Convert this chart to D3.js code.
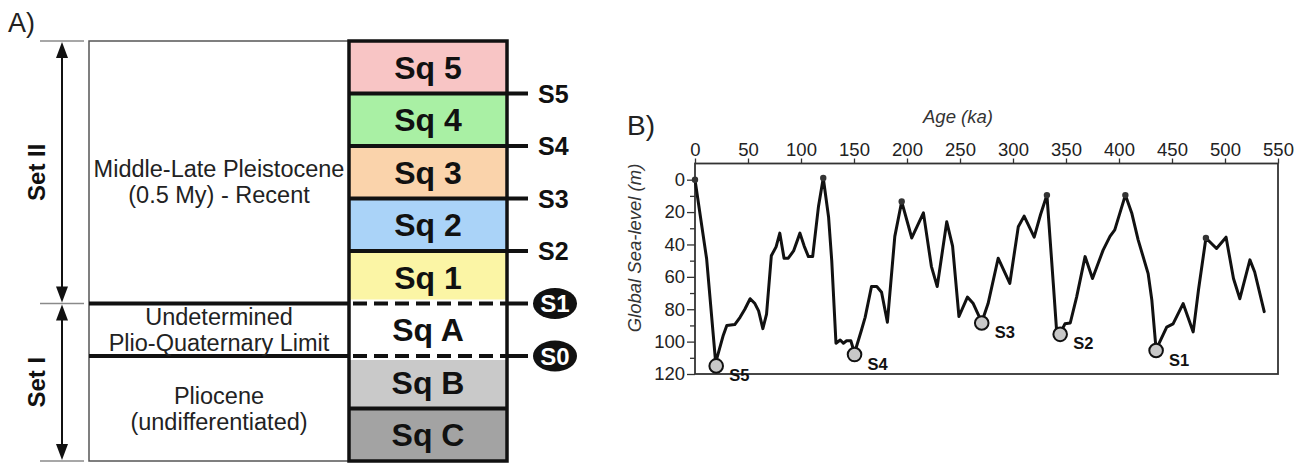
<!DOCTYPE html>
<html>
<head>
<meta charset="utf-8">
<script src="https://cdn.jsdelivr.net/npm/d3@7"></script>
<style>
  html, body { margin: 0; padding: 0; background: #fff; }
  svg { display: block; font-family: 'Liberation Sans', Arial, sans-serif; }
</style>
</head>
<body>
<svg id="chart" width="1306" height="463"></svg>
<script>
// ---- panel A data ----
const sequences = ['Sq 5', 'Sq 4', 'Sq 3', 'Sq 2', 'Sq 1', 'Sq A', 'Sq B', 'Sq C'];
const seqColors = ['#f8c5c5', '#a9f0a4', '#fad3ab', '#aad3f8', '#fbf5a5', '#ffffff', '#c9c9c9', '#a3a3a3'];
// surface at the base of each of the first six sequences
const surfaces = ['S5', 'S4', 'S3', 'S2', 'S1', 'S0'];
const keySurfaces = ['S1', 'S0'];
const unitLabels = [
  ['Middle-Late Pleistocene', '(0.5 My) - Recent'],
  ['Undetermined', 'Plio-Quaternary Limit'],
  ['Pliocene', '(undifferentiated)']
];
const unitSpans = [['Sq 5', 'Sq 1'], ['Sq A', 'Sq A'], ['Sq B', 'Sq C']];
const setNames = ['Set II', 'Set I'];
const setSpans = [['Sq 5', 'Sq 1'], ['Sq A', 'Sq C']];

// ---- panel B data ----
const ages = [0, 11, 19.5, 26.7, 30, 37.5, 42.5, 47, 52, 56.5, 60, 64, 67.5, 72, 76.5, 80, 84, 88, 93, 99,
  103, 107, 111, 116.5, 121, 126, 129, 133, 137, 140, 143, 147, 150.5, 157, 160.5, 166.5, 171.5, 176, 181.5,
  188.5, 195, 204.5, 215.5, 223, 228.5, 237.5, 243, 249, 257, 262.5, 270.5, 276.5, 286, 297, 305, 310.5,
  320, 326, 332, 338, 341, 344.5, 349, 354, 360, 368, 375, 385, 391.5, 396, 406, 412, 418, 427.5, 431,
  435, 445, 451, 460.5, 470, 475, 482, 492, 501, 508, 514, 523.5, 528, 537];
const seaLevel = [0, 49, 113, 96, 90, 89.5, 85, 80, 73.5, 76.5, 81, 92, 83, 47, 41.5, 33, 48.5, 48.5, 44, 33,
  41, 47.5, 47.5, 16.5, -1, 23, 50, 101, 99, 101, 99.5, 99.5, 107, 93, 85, 66, 66, 69.5, 88,
  35, 13.5, 36, 20.5, 53.5, 66, 26, 41, 84.5, 72.5, 76.5, 88, 76.5, 48.5, 64, 29, 22.5,
  35.5, 21.5, 9.5, 64, 92, 95, 89, 88.5, 72.5, 47.5, 61, 43.5, 35, 31, 9.5, 20.5, 37, 58, 74.5,
  105, 91, 89, 76.5, 94, 68, 36, 42.5, 35.5, 61, 73.5, 49.5, 57, 81.5];
const lowstandNames = ['S5', 'S4', 'S3', 'S2', 'S1'];
const lowstandAges = [20, 150.5, 270.5, 344.5, 435];
const lowstandLevels = [115, 108, 88.5, 95.5, 105.5];
const highstandAges = [0, 121, 195, 332, 406, 482];
const highstandLevels = [0, -1, 13.5, 9.5, 9.5, 36];
const ageTicks = [0, 50, 100, 150, 200, 250, 300, 350, 400, 450, 500, 550];
const levelTicks = [0, 20, 40, 60, 80, 100, 120];
const levelMinor = [10, 30, 50, 70, 90, 110];

const svg = d3.select('#chart');

// =================== panel A ===================
const gA = svg.append('g');
const boxLeft = 89, colLeft = 349, colRight = 507, tickEnd = 528;
const yA = d3.scaleBand().domain(sequences).range([41, 461]);
const bw = yA.bandwidth();
const colTop = yA.range()[0], colBottom = yA.range()[1];

gA.append('text').attr('x', 8).attr('y', 32).attr('font-size', 27).attr('fill', '#222').text('A)');

// bands
gA.selectAll('rect.band').data(sequences).enter().append('rect')
  .attr('class', 'band')
  .attr('x', colLeft).attr('width', colRight - colLeft)
  .attr('y', d => yA(d)).attr('height', bw)
  .attr('fill', (d, i) => seqColors[i]);

gA.selectAll('text.seq').data(sequences).enter().append('text')
  .attr('class', 'seq')
  .attr('x', (colLeft + colRight) / 2)
  .attr('y', d => yA(d) + bw / 2)
  .attr('dy', '0.36em')
  .attr('text-anchor', 'middle')
  .attr('font-size', 32).attr('font-weight', 'bold').attr('fill', '#111')
  .text(d => d);

// left box outline
gA.append('path')
  .attr('d', `M${colLeft},${colTop}H${boxLeft}V${colBottom}H${colLeft}`)
  .attr('fill', 'none').attr('stroke', '#555').attr('stroke-width', 1.5);

// boundary between Sq B and Sq C
const bc = yA('Sq C');
gA.append('line').attr('x1', colLeft).attr('x2', colRight).attr('y1', bc).attr('y2', bc)
  .attr('stroke', '#111').attr('stroke-width', 4);

// surfaces
surfaces.forEach((s, i) => {
  const yb = yA(sequences[i]) + bw;
  const isKey = keySurfaces.includes(s);
  if (isKey) {
    gA.append('line').attr('x1', boxLeft).attr('x2', colLeft).attr('y1', yb).attr('y2', yb)
      .attr('stroke', '#111').attr('stroke-width', 4);
    gA.append('line').attr('x1', colLeft).attr('x2', colRight).attr('y1', yb).attr('y2', yb)
      .attr('stroke', '#fff').attr('stroke-width', 8);
    gA.append('line').attr('x1', colLeft + 4).attr('x2', colRight).attr('y1', yb).attr('y2', yb)
      .attr('stroke', '#111').attr('stroke-width', 4).attr('stroke-dasharray', '14,7');
    gA.append('line').attr('x1', colRight).attr('x2', tickEnd).attr('y1', yb).attr('y2', yb)
      .attr('stroke', '#111').attr('stroke-width', 4);
    gA.append('ellipse').attr('cx', 555).attr('cy', yb).attr('rx', 22).attr('ry', 15.5).attr('fill', '#111');
    gA.append('text').attr('x', 555).attr('y', yb).attr('dy', '0.36em')
      .attr('text-anchor', 'middle').attr('font-size', 24).attr('font-weight', 'bold')
      .attr('fill', '#fff').text(s);
  } else {
    gA.append('line').attr('x1', colLeft).attr('x2', tickEnd).attr('y1', yb).attr('y2', yb)
      .attr('stroke', '#111').attr('stroke-width', 4);
    gA.append('text').attr('x', 538).attr('y', yb).attr('dy', '0.36em')
      .attr('font-size', 25).attr('font-weight', 'bold').attr('fill', '#111').text(s);
  }
});

// column outline
gA.append('rect').attr('x', colLeft).attr('y', colTop).attr('width', colRight - colLeft).attr('height', colBottom - colTop)
  .attr('fill', 'none').attr('stroke', '#111').attr('stroke-width', 3.5);

// unit descriptions
unitLabels.forEach((lines, i) => {
  const y0 = yA(unitSpans[i][0]), y1 = yA(unitSpans[i][1]) + bw;
  const cy = (y0 + y1) / 2 + (i === 0 ? 9 : 0);
  const t = gA.append('text').attr('x', (boxLeft + colLeft) / 2).attr('y', cy)
    .attr('text-anchor', 'middle').attr('font-size', 23.5).attr('fill', '#222');
  lines.forEach((l, j) => {
    t.append('tspan').attr('x', (boxLeft + colLeft) / 2)
      .attr('dy', j === 0 ? `${-0.5 * (lines.length - 1) * 1.1 + 0.36}em` : '1.1em').text(l);
  });
});

// sets with double arrows
const arrowX = 62;
const setBounds = [colTop];
setSpans.forEach(sp => setBounds.push(yA(sp[1]) + bw));
setBounds.forEach(yv => {
  gA.append('line').attr('x1', 40).attr('x2', 84).attr('y1', yv).attr('y2', yv)
    .attr('stroke', '#8a8a8a').attr('stroke-width', 1.5);
});
setNames.forEach((name, i) => {
  const y0 = yA(setSpans[i][0]), y1 = yA(setSpans[i][1]) + bw;
  gA.append('line').attr('x1', arrowX).attr('x2', arrowX).attr('y1', y0 + 10).attr('y2', y1 - 10)
    .attr('stroke', '#111').attr('stroke-width', 2);
  gA.append('path').attr('d', `M${arrowX},${y0 + 1}L${arrowX - 6},${y0 + 17}L${arrowX + 6},${y0 + 17}Z`).attr('fill', '#111');
  gA.append('path').attr('d', `M${arrowX},${y1 - 1}L${arrowX - 6},${y1 - 17}L${arrowX + 6},${y1 - 17}Z`).attr('fill', '#111');
  gA.append('text')
    .attr('transform', `translate(45,${(y0 + y1) / 2}) rotate(-90)`)
    .attr('text-anchor', 'middle').attr('font-size', 24).attr('font-weight', 'bold').attr('fill', '#111')
    .text(name);
});

// =================== panel B ===================
const gB = svg.append('g');
const xB = d3.scaleLinear().domain([0, 550]).range([695, 1278]);
const yB = d3.scaleLinear().domain([-10, 120]).range([163.5, 374]);

gB.append('text').attr('x', 627).attr('y', 135).attr('font-size', 28).attr('fill', '#222').text('B)');
gB.append('text').attr('x', 958).attr('y', 123).attr('text-anchor', 'middle')
  .attr('font-size', 18.5).attr('font-style', 'italic').attr('fill', '#333').text('Age (ka)');
gB.append('text').attr('transform', `translate(641,248) rotate(-90)`).attr('text-anchor', 'middle')
  .attr('font-size', 18.5).attr('font-style', 'italic').attr('fill', '#333').text('Global Sea-level (m)');

const xAxis = gB.append('g').attr('transform', `translate(0,${yB(-10)})`)
  .call(d3.axisTop(xB).tickValues(ageTicks).tickSize(5).tickSizeOuter(0).tickPadding(3));
const yAxis = gB.append('g').attr('transform', `translate(${xB(0)},0)`)
  .call(d3.axisLeft(yB).tickValues(levelTicks).tickSize(8).tickSizeOuter(0).tickPadding(2));
const yMinor = gB.append('g').attr('transform', `translate(${xB(0)},0)`)
  .call(d3.axisLeft(yB).tickValues(levelMinor).tickSize(5).tickSizeOuter(0).tickFormat(''));
[xAxis, yAxis, yMinor].forEach(a => {
  a.select('.domain').remove();
  a.selectAll('line').attr('stroke', '#333').attr('stroke-width', 1.3);
  a.selectAll('text').attr('font-size', 18.5).attr('fill', '#222')
    .attr('font-family', "'Liberation Sans', Arial, sans-serif");
});

gB.append('rect').attr('x', xB(0)).attr('y', yB(-10))
  .attr('width', xB(550) - xB(0)).attr('height', yB(120) - yB(-10))
  .attr('fill', 'none').attr('stroke', '#333').attr('stroke-width', 1.8);

const curve = ages.map((a, i) => [a, seaLevel[i]]);
const line = d3.line().x(d => xB(d[0])).y(d => yB(d[1]));
gB.append('path').datum(curve).attr('d', line)
  .attr('fill', 'none').attr('stroke', '#111').attr('stroke-width', 3)
  .attr('stroke-linejoin', 'round').attr('stroke-linecap', 'round');

gB.selectAll('circle.high').data(highstandAges).enter().append('circle')
  .attr('class', 'high')
  .attr('cx', d => xB(d)).attr('cy', (d, i) => yB(highstandLevels[i])).attr('r', 3.2)
  .attr('fill', '#333');

gB.selectAll('circle.low').data(lowstandAges).enter().append('circle')
  .attr('class', 'low')
  .attr('cx', d => xB(d)).attr('cy', (d, i) => yB(lowstandLevels[i])).attr('r', 6.8)
  .attr('fill', '#c8c8c8').attr('stroke', '#111').attr('stroke-width', 2);

gB.selectAll('text.low').data(lowstandNames).enter().append('text')
  .attr('class', 'low')
  .attr('x', (d, i) => xB(lowstandAges[i]) + 13)
  .attr('y', (d, i) => yB(lowstandLevels[i]) + 15)
  .attr('font-size', 16.5).attr('font-weight', 'bold').attr('fill', '#111')
  .text(d => d);
</script>
</body>
</html>
